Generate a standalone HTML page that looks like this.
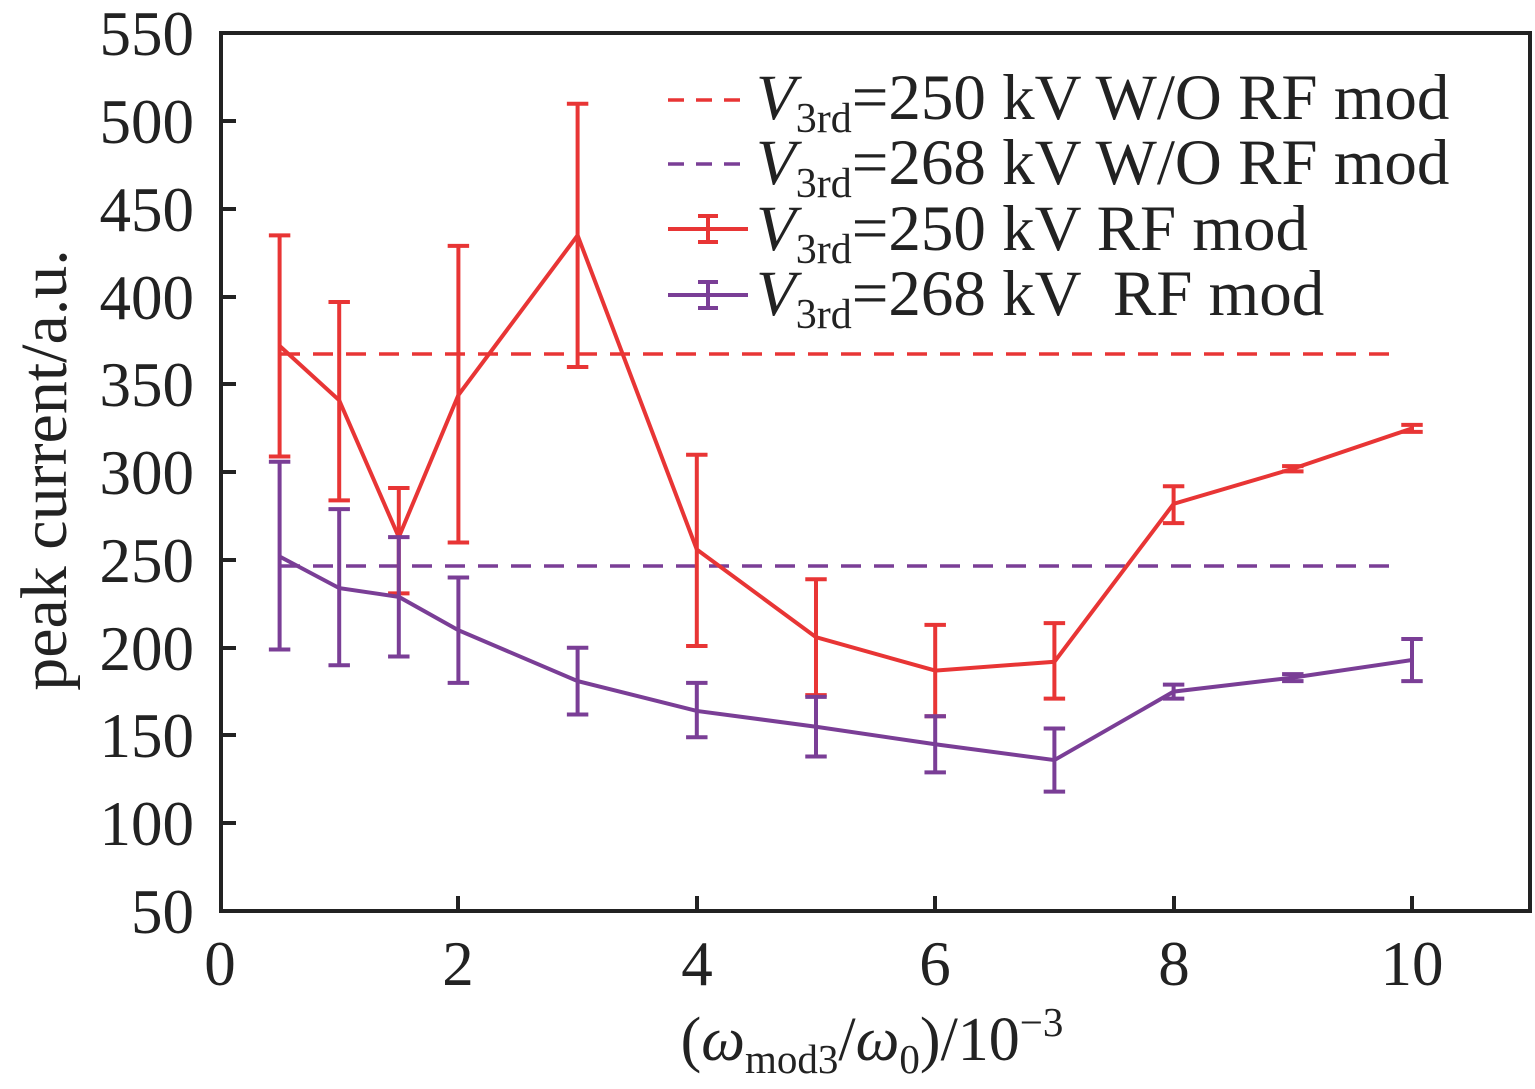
<!DOCTYPE html>
<html><head><meta charset="utf-8"><style>body{margin:0;background:#fff}svg{display:block}</style></head>
<body>
<svg width="1535" height="1089" viewBox="0 0 1535 1089" xmlns="http://www.w3.org/2000/svg" font-family="Liberation Serif, serif" fill="#222">
<rect x="0" y="0" width="1535" height="1089" fill="#fff"/>
<rect x="221" y="33" width="1309" height="878" fill="none" stroke="#222" stroke-width="4"/>
<g stroke="#222" stroke-width="4">
<line x1="221" y1="121" x2="236" y2="121"/><line x1="221" y1="209" x2="236" y2="209"/><line x1="221" y1="297" x2="236" y2="297"/><line x1="221" y1="384" x2="236" y2="384"/><line x1="221" y1="472" x2="236" y2="472"/><line x1="221" y1="560" x2="236" y2="560"/><line x1="221" y1="648" x2="236" y2="648"/><line x1="221" y1="735" x2="236" y2="735"/><line x1="221" y1="823" x2="236" y2="823"/>
<line x1="458" y1="911" x2="458" y2="896"/><line x1="697" y1="911" x2="697" y2="896"/><line x1="935" y1="911" x2="935" y2="896"/><line x1="1174" y1="911" x2="1174" y2="896"/><line x1="1412" y1="911" x2="1412" y2="896"/>
</g>
<g font-size="63" text-anchor="end">
<text x="194" y="55">550</text><text x="194" y="143">500</text><text x="194" y="231">450</text><text x="194" y="319">400</text><text x="194" y="406">350</text><text x="194" y="494">300</text><text x="194" y="582">250</text><text x="194" y="670">200</text><text x="194" y="757">150</text><text x="194" y="845">100</text><text x="194" y="933">50</text>
</g>
<g font-size="63" text-anchor="middle">
<text x="220" y="985">0</text><text x="458" y="985">2</text><text x="697" y="985">4</text><text x="935" y="985">6</text><text x="1174" y="985">8</text><text x="1412" y="985">10</text>
</g>
<text x="872" y="1060" font-size="62" text-anchor="middle">(<tspan font-style="italic">ω</tspan><tspan font-size="41" dy="13">mod3</tspan><tspan dy="-13">/</tspan><tspan font-style="italic">ω</tspan><tspan font-size="41" dy="13">0</tspan><tspan dy="-13">)/10</tspan><tspan font-size="41" dy="-24">−3</tspan></text>
<text transform="translate(66,470) rotate(-90)" font-size="66" text-anchor="middle">peak current/a.u.</text>
<line x1="280" y1="354" x2="1398" y2="354" stroke="#e83535" stroke-width="3.5" stroke-dasharray="20 13"/>
<line x1="280" y1="566" x2="1398" y2="566" stroke="#7a3e96" stroke-width="3.5" stroke-dasharray="20 13"/>
<g transform="matrix(119.2 0 0 -1.755 220 998.75)" fill="none" stroke-width="4">
<g stroke="#e83535">
<polyline vector-effect="non-scaling-stroke" points="0.5,372 1,341 1.5,263 2,344 3,435 4,256 5,206 6,187 7,192 8,282 9,302 10,325"/>
<path vector-effect="non-scaling-stroke" d="M0.5,435V309M0.41,435H0.59M0.41,309H0.59 M1,397V284M0.91,397H1.09M0.91,284H1.09 M1.5,291V231M1.41,291H1.59M1.41,231H1.59 M2,429V260M1.91,429H2.09M1.91,260H2.09 M3,510V360M2.91,510H3.09M2.91,360H3.09 M4,310V201M3.91,310H4.09M3.91,201H4.09 M5,239V173M4.91,239H5.09M4.91,173H5.09 M6,213V161M5.91,213H6.09M5.91,161H6.09 M7,214V171M6.91,214H7.09M6.91,171H7.09 M8,292V271M7.91,292H8.09M7.91,271H8.09 M9,303.5V300.5M8.91,303.5H9.09M8.91,300.5H9.09 M10,327V323M9.91,327H10.09M9.91,323H10.09"/>
</g>
<g stroke="#7a3e96">
<polyline vector-effect="non-scaling-stroke" points="0.5,252 1,234 1.5,229 2,210 3,181 4,164 5,155 6,145 7,136 8,175 9,183 10,193"/>
<path vector-effect="non-scaling-stroke" d="M0.5,306V199M0.41,306H0.59M0.41,199H0.59 M1,279V190M0.91,279H1.09M0.91,190H1.09 M1.5,263V195M1.41,263H1.59M1.41,195H1.59 M2,240V180M1.91,240H2.09M1.91,180H2.09 M3,200V162M2.91,200H3.09M2.91,162H3.09 M4,180V149M3.91,180H4.09M3.91,149H4.09 M5,172V138M4.91,172H5.09M4.91,138H5.09 M6,161V129M5.91,161H6.09M5.91,129H6.09 M7,154V118M6.91,154H7.09M6.91,118H7.09 M8,179V171M7.91,179H8.09M7.91,171H8.09 M9,185V181M8.91,185H9.09M8.91,181H9.09 M10,205V181M9.91,205H10.09M9.91,181H10.09"/>
</g>
</g>
<line x1="668" y1="100" x2="748" y2="100" stroke="#e83535" stroke-width="3.5" stroke-dasharray="16 12"/>
<line x1="668" y1="164" x2="748" y2="164" stroke="#7a3e96" stroke-width="3.5" stroke-dasharray="16 12"/>
<g stroke="#e83535" stroke-width="4"><line x1="668" y1="229" x2="748" y2="229"/><line x1="708" y1="216" x2="708" y2="242"/><line x1="698" y1="216" x2="718" y2="216"/><line x1="698" y1="242" x2="718" y2="242"/></g>
<g stroke="#7a3e96" stroke-width="4"><line x1="668" y1="295" x2="748" y2="295"/><line x1="708" y1="282" x2="708" y2="308"/><line x1="698" y1="282" x2="718" y2="282"/><line x1="698" y1="308" x2="718" y2="308"/></g>
<g font-size="65">
<text x="756" y="119"><tspan font-style="italic">V</tspan><tspan font-size="42" dy="13">3rd</tspan><tspan dy="-13">=250 kV W/O RF mod</tspan></text>
<text x="756" y="184"><tspan font-style="italic">V</tspan><tspan font-size="42" dy="13">3rd</tspan><tspan dy="-13">=268 kV W/O RF mod</tspan></text>
<text x="756" y="250"><tspan font-style="italic">V</tspan><tspan font-size="42" dy="13">3rd</tspan><tspan dy="-13">=250 kV RF mod</tspan></text>
<text x="756" y="315" xml:space="preserve"><tspan font-style="italic">V</tspan><tspan font-size="42" dy="13">3rd</tspan><tspan dy="-13">=268 kV  RF mod</tspan></text>
</g>
</svg>
</body></html>
